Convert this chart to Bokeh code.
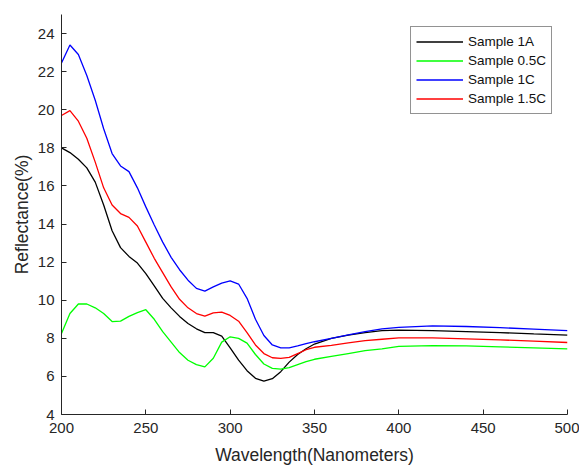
from bokeh.plotting import figure
from bokeh.models import Range1d, Legend, LegendItem, FixedTicker
from bokeh.embed import file_html
from bokeh.resources import INLINE

wavelength = [200, 205, 210, 215, 220, 225, 230, 235, 240, 245, 250, 255, 260, 265, 270,
              275, 280, 285, 290, 295, 300, 305, 310, 315, 320, 325, 330, 335, 340, 345, 350,
              360, 370, 380, 390, 400, 420, 440, 460, 480, 500]

sample_1a = [18.0, 17.75, 17.4, 16.95, 16.2, 15.0, 13.65, 12.76, 12.3, 11.95, 11.4, 10.75, 10.1, 9.6, 9.15,
             8.78, 8.5, 8.3, 8.3, 8.12, 7.5, 6.85, 6.3, 5.9, 5.75, 5.88, 6.25, 6.75, 7.15, 7.45, 7.7,
             8.0, 8.17, 8.3, 8.4, 8.43, 8.4, 8.35, 8.3, 8.23, 8.17]

sample_05c = [8.25, 9.3, 9.8, 9.8, 9.6, 9.3, 8.88, 8.9, 9.15, 9.35, 9.5, 9.0, 8.35, 7.8, 7.25,
              6.85, 6.62, 6.5, 6.95, 7.8, 8.08, 8.0, 7.75, 7.15, 6.65, 6.42, 6.38, 6.46, 6.62, 6.78, 6.9,
              7.05, 7.2, 7.35, 7.45, 7.58, 7.62, 7.6, 7.55, 7.5, 7.45]

sample_1c = [22.45, 23.4, 22.9, 21.8, 20.5, 19.0, 17.7, 17.05, 16.75, 15.9, 14.9, 13.95, 13.05, 12.25, 11.6,
             11.05, 10.62, 10.48, 10.7, 10.9, 11.02, 10.85, 10.1, 9.0, 8.15, 7.65, 7.5, 7.5, 7.6, 7.72, 7.82,
             8.0, 8.18, 8.35, 8.5, 8.57, 8.65, 8.62, 8.56, 8.48, 8.4]

sample_15c = [19.7, 19.95, 19.4, 18.5, 17.25, 15.9, 15.0, 14.55, 14.35, 13.9, 13.05, 12.2, 11.45, 10.7, 10.05,
              9.6, 9.3, 9.16, 9.33, 9.38, 9.2, 8.9, 8.3, 7.65, 7.2, 6.98, 6.95, 7.0, 7.2, 7.4, 7.53,
              7.63, 7.76, 7.88, 7.95, 8.02, 8.02, 7.97, 7.92, 7.85, 7.78]

series_names = ["Sample 1A", "Sample 0.5C", "Sample 1C", "Sample 1.5C"]
series_values = [sample_1a, sample_05c, sample_1c, sample_15c]
series_colors = ["#000000", "#00ff00", "#0000ff", "#ff0000"]

x_ticks = [200, 250, 300, 350, 400, 450, 500]
y_ticks = [4, 6, 8, 10, 12, 14, 16, 18, 20, 22, 24]

FONT = "Liberation Sans"
AX = "#262626"

p = figure(width=579, height=467, output_backend="svg", toolbar_location=None,
           x_range=Range1d(200, 500), y_range=Range1d(4, 25),
           min_border_left=61, min_border_right=12, min_border_top=14, min_border_bottom=53)
p.outline_line_color = None
p.xgrid.visible = False
p.ygrid.visible = False
p.background_fill_color = "white"
p.border_fill_color = "white"

items = []
for name, vals, col in zip(series_names, series_values, series_colors):
    r = p.line(wavelength, vals, line_color=col, line_width=1.3)
    items.append(LegendItem(label=name, renderers=[r]))

for ax in (p.xaxis[0], p.yaxis[0]):
    ax.axis_line_color = AX
    ax.axis_line_width = 1
    ax.major_tick_line_color = AX
    ax.major_tick_in = 5
    ax.major_tick_out = 0
    ax.minor_tick_line_color = None
    ax.major_label_text_font = FONT
    ax.major_label_text_font_size = "15px"
    ax.major_label_text_color = AX
    ax.axis_label_text_font = FONT
    ax.axis_label_text_font_size = "17.5px"
    ax.axis_label_text_font_style = "normal"
    ax.axis_label_text_color = AX

p.xaxis[0].ticker = FixedTicker(ticks=x_ticks)
p.yaxis[0].ticker = FixedTicker(ticks=y_ticks)
p.xaxis[0].axis_label = "Wavelength(Nanometers)"
p.yaxis[0].axis_label = "Reflectance(%)"
p.xaxis[0].major_label_standoff = 8
p.xaxis[0].axis_label_standoff = 9
p.yaxis[0].major_label_standoff = 7
p.yaxis[0].axis_label_standoff = 3

legend = Legend(items=items, location=(349, 300), padding=5, margin=0, spacing=0,
                glyph_width=47, glyph_height=19, label_height=19, label_standoff=5,
                label_text_font=FONT, label_text_font_size="13.5px", label_text_color="#111111",
                border_line_color=AX, border_line_width=1, background_fill_alpha=1.0,
                background_fill_color="white")
p.add_layout(legend)

open("out.html", "w").write(file_html(p, INLINE))
